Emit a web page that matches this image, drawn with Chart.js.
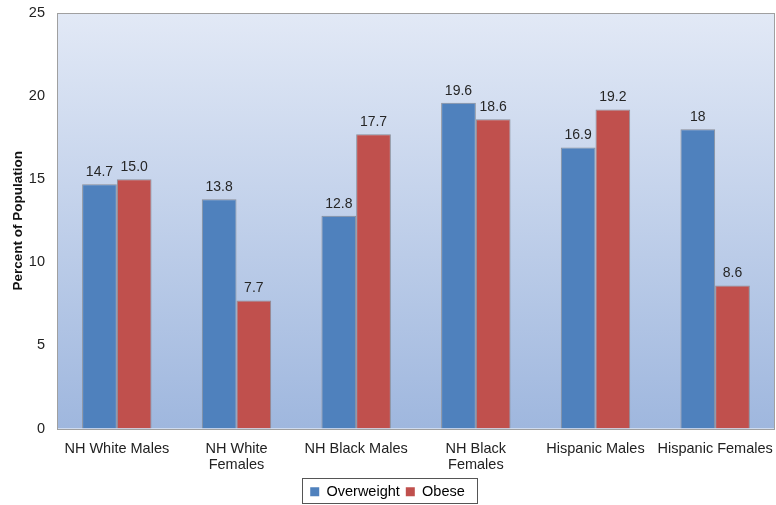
<!DOCTYPE html>
<html lang="en">
<head>
    <meta charset="UTF-8">
    <title>Overweight and Obese by Group</title>
    <script src="https://cdn.jsdelivr.net/npm/chart.js"></script>
    <style>
        body { margin: 0; padding: 0; background: #ffffff; }
        #wrap { width: 776px; height: 505px; position: relative; }
    </style>
</head>
<body>
    <div id="wrap"><canvas id="obesityChart"></canvas></div>

    <script>
        const groups = [
            "NH White Males",
            ["NH White", "Females"],
            "NH Black Males",
            ["NH Black", "Females"],
            "Hispanic Males",
            "Hispanic Females"
        ];
        const overweight = [14.7, 13.8, 12.8, 19.6, 16.9, 18];
        const obese = [15.0, 7.7, 17.7, 18.6, 19.2, 8.6];
        const overweightLabels = ["14.7", "13.8", "12.8", "19.6", "16.9", "18"];
        const obeseLabels = ["15.0", "7.7", "17.7", "18.6", "19.2", "8.6"];
        const yTicks = [0, 5, 10, 15, 20, 25];

        const font = "'Liberation Sans', Arial, sans-serif";

        // gradient behind the plot + grey frame
        const plotBackground = {
            id: 'plotBackground',
            beforeDraw(chart) {
                const { ctx, chartArea: a } = chart;
                const g = ctx.createLinearGradient(0, a.top, 0, a.bottom);
                g.addColorStop(0, '#e2e9f6');
                g.addColorStop(1, '#9fb7de');
                ctx.save();
                ctx.fillStyle = g;
                ctx.fillRect(a.left, a.top, a.right - a.left, a.bottom - a.top);
                ctx.restore();
            },
            afterDatasetsDraw(chart) {
                const { ctx, chartArea: a } = chart;
                ctx.save();
                ctx.strokeStyle = '#a0a0a0';
                ctx.lineWidth = 1;
                ctx.strokeRect(Math.round(a.left) + 0.5, Math.round(a.top) + 0.5,
                    Math.round(a.right - a.left) - 1, Math.round(a.bottom - a.top));
                ctx.restore();
            }
        };

        // value labels above bars
        const valueLabels = {
            id: 'valueLabels',
            afterDatasetsDraw(chart) {
                const { ctx } = chart;
                const texts = [overweightLabels, obeseLabels];
                ctx.save();
                ctx.font = '14px ' + font;
                ctx.fillStyle = '#262626';
                ctx.textAlign = 'center';
                ctx.textBaseline = 'bottom';
                chart.data.datasets.forEach((ds, i) => {
                    chart.getDatasetMeta(i).data.forEach((bar, j) => {
                        ctx.fillText(texts[i][j], bar.x, bar.y - 5);
                    });
                });
                ctx.restore();
            }
        };

        // box round the legend
        const legendFrame = {
            id: 'legendFrame',
            afterDraw(chart) {
                const boxes = chart.legend.legendHitBoxes;
                if (!boxes || !boxes.length) return;
                const { ctx } = chart;
                const left = Math.min(...boxes.map(b => b.left)) - 8;
                const right = Math.max(...boxes.map(b => b.left + b.width)) + 12;
                const top = boxes[0].top - 7;
                const bottom = boxes[0].top + 18;
                ctx.save();
                ctx.strokeStyle = '#555';
                ctx.lineWidth = 1;
                ctx.strokeRect(Math.round(left) + 0.5, Math.round(top) + 0.5, Math.round(right - left), Math.round(bottom - top));
                ctx.restore();
            }
        };

        const ctx = document.getElementById('obesityChart').getContext('2d');
        new Chart(ctx, {
            type: 'bar',
            data: {
                labels: groups,
                datasets: [{
                    label: 'Overweight',
                    data: overweight,
                    backgroundColor: '#4f81bd',
                    borderColor: '#8a8f99',
                    borderWidth: 1,
                    categoryPercentage: 0.58,
                    barPercentage: 1.0
                }, {
                    label: 'Obese',
                    data: obese,
                    backgroundColor: '#c0504d',
                    borderColor: '#8a8f99',
                    borderWidth: 1,
                    categoryPercentage: 0.58,
                    barPercentage: 1.0
                }]
            },
            options: {
                responsive: true,
                maintainAspectRatio: false,
                animation: false,
                layout: { padding: { top: 13, right: 1, bottom: -4, left: 0 } },
                plugins: {
                    tooltip: { enabled: false },
                    legend: {
                        position: 'bottom',
                        labels: {
                            boxWidth: 9,
                            boxHeight: 9,
                            padding: 6,
                            color: '#222',
                            font: { family: font, size: 14.5 },
                            generateLabels(chart) {
                                return chart.data.datasets.map((ds, i) => ({
                                    text: ds.label,
                                    fillStyle: ds.backgroundColor,
                                    strokeStyle: ds.backgroundColor,
                                    lineWidth: 0,
                                    datasetIndex: i
                                }));
                            }
                        }
                    }
                },
                scales: {
                    x: {
                        grid: { display: false, drawTicks: false },
                        border: { display: false },
                        ticks: {
                            color: '#222',
                            padding: 13,
                            maxRotation: 0,
                            autoSkip: false,
                            font: { family: font, size: 14.5, lineHeight: 1.1 }
                        },
                        afterFit(scale) {
                            scale.height = 50;
                            scale.paddingLeft = 0;
                            scale.paddingRight = 0;
                        }
                    },
                    y: {
                        min: 0,
                        max: 25,
                        afterBuildTicks(scale) { scale.ticks = yTicks.map(v => ({ value: v })); },
                        grid: { display: false, drawTicks: false },
                        border: { display: false },
                        ticks: {
                            color: '#222',
                            padding: 12,
                            font: { family: font, size: 14.5 }
                        },
                        title: {
                            display: true,
                            text: 'Percent of Population',
                            color: '#111',
                            padding: { top: 10, bottom: 0 },
                            font: { family: font, size: 13.5, weight: 'bold' }
                        },
                        afterFit(scale) {
                            scale.width = 57;
                            scale.paddingTop = 0;
                            scale.paddingBottom = 0;
                        }
                    }
                }
            },
            plugins: [plotBackground, valueLabels, legendFrame]
        });
    </script>
</body>
</html>
